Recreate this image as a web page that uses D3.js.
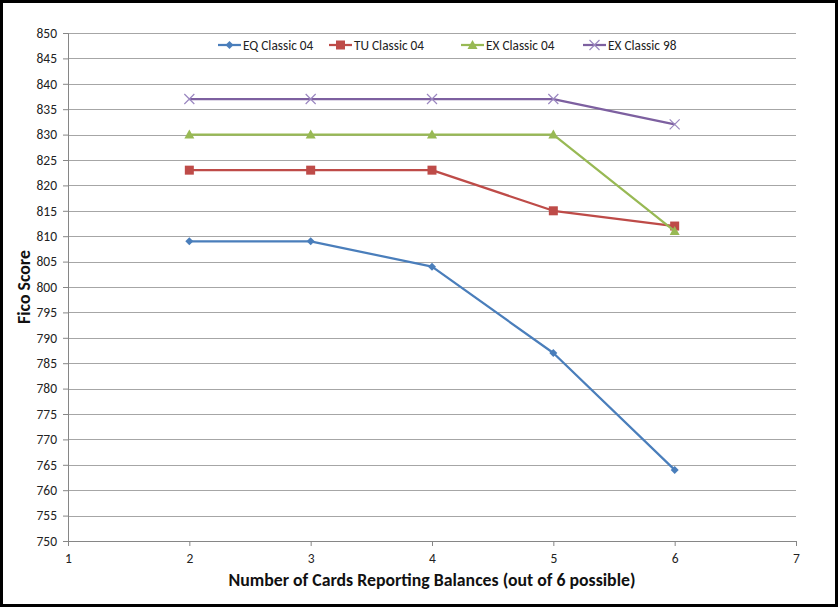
<!DOCTYPE html>
<html><head><meta charset="utf-8">
<script src="https://cdn.jsdelivr.net/npm/d3@7"></script>
<style>body{margin:0;background:#fff}svg{display:block}</style>
</head><body>
<script>
const xCats = [2, 3, 4, 5, 6];
const seriesNames = ["EQ Classic 04", "TU Classic 04", "EX Classic 04", "EX Classic 98"];
const eq04 = [809, 809, 804, 787, 764];
const tu04 = [823, 823, 823, 815, 812];
const ex04 = [830, 830, 830, 830, 811];
const ex98 = [837, 837, 837, 837, 832];
const xTicks = [1, 2, 3, 4, 5, 6, 7];
const yTicks = d3.range(750, 851, 5);
const colors = ["#4a7ebb", "#be4b48", "#98b954", "#7d60a0"];
const markers = ["diamond", "square", "triangle", "x"];
const allSeries = [eq04, tu04, ex04, ex98];

const W = 838, H = 607;
const svg = d3.select("body").append("svg").attr("width", W).attr("height", H);
svg.append("rect").attr("x", 1.5).attr("y", 1.5).attr("width", W - 3).attr("height", H - 3)
  .attr("fill", "#fff").attr("stroke", "#000").attr("stroke-width", 3);

const x = d3.scaleLinear().domain([1, 7]).range([68, 796]);
const y = d3.scaleLinear().domain([750, 850]).range([541, 33]);
const font = "Calibri, Carlito, 'Open Sans', sans-serif";

// gridlines
svg.append("g").selectAll("line").data(yTicks).join("line")
  .attr("x1", x(1)).attr("x2", x(7)).attr("y1", d => Math.round(y(d)) + 0.5).attr("y2", d => Math.round(y(d)) + 0.5)
  .attr("stroke", "#a6a6a6").attr("stroke-width", 1);

// y axis
const yAxis = svg.append("g").attr("transform", `translate(${x(1)},0)`)
  .call(d3.axisLeft(y).tickValues(yTicks).tickSize(5).tickPadding(6));
yAxis.select(".domain").attr("stroke", "#868686");
yAxis.selectAll(".tick line").attr("stroke", "#868686");
yAxis.selectAll("text").attr("font-family", font).attr("font-size", 13.5).attr("fill", "#222");

// x axis
const xAxis = svg.append("g").attr("transform", `translate(0,${y(750)})`)
  .call(d3.axisBottom(x).tickValues(xTicks).tickFormat(d3.format("d")).tickSize(5).tickPadding(7));
xAxis.select(".domain").attr("stroke", "#868686");
xAxis.selectAll(".tick line").attr("stroke", "#868686");
xAxis.selectAll("text").attr("font-family", font).attr("font-size", 13.5).attr("fill", "#222");

// axis titles
svg.append("text").attr("x", 432).attr("y", 586).attr("text-anchor", "middle")
  .attr("font-family", font).attr("font-size", 17.8).attr("font-weight", "bold").attr("fill", "#111")
  .text("Number of Cards Reporting Balances (out of 6 possible)");
svg.append("text").attr("transform", "translate(30,287) rotate(-90)").attr("text-anchor", "middle")
  .attr("font-family", font).attr("font-size", 17.8).attr("font-weight", "bold").attr("fill", "#111")
  .text("Fico Score");

function drawMarker(g, type, cx, cy, color) {
  if (type === "diamond") {
    g.append("path").attr("d", `M${cx},${cy - 4}L${cx + 4},${cy}L${cx},${cy + 4}L${cx - 4},${cy}Z`).attr("fill", color);
  } else if (type === "square") {
    g.append("rect").attr("x", cx - 4.5).attr("y", cy - 4.5).attr("width", 9).attr("height", 9).attr("fill", color);
  } else if (type === "triangle") {
    g.append("path").attr("d", `M${cx},${cy - 5}L${cx + 5},${cy + 4}L${cx - 5},${cy + 4}Z`).attr("fill", color);
  } else {
    g.append("path").attr("d", `M${cx - 5},${cy - 5}L${cx + 5},${cy + 5}M${cx - 5},${cy + 5}L${cx + 5},${cy - 5}`)
      .attr("stroke", "#9b87c0").attr("stroke-width", 1.2).attr("fill", "none");
  }
}

const line = d3.line().x((d, i) => x(xCats[i])).y(d => y(d));
allSeries.forEach((vals, si) => {
  const g = svg.append("g");
  g.append("path").datum(vals).attr("d", line).attr("fill", "none")
    .attr("stroke", colors[si]).attr("stroke-width", 2.25).attr("stroke-linejoin", "round");
  vals.forEach((v, i) => drawMarker(g, markers[si], x(xCats[i]), y(v), colors[si]));
});

// legend
const legX = [218, 329, 461, 583];
seriesNames.forEach((name, si) => {
  const g = svg.append("g");
  const lx = legX[si], ly = 45;
  g.append("line").attr("x1", lx).attr("x2", lx + 23).attr("y1", ly).attr("y2", ly)
    .attr("stroke", colors[si]).attr("stroke-width", 2.25);
  drawMarker(g, markers[si], lx + 11.5, ly, colors[si]);
  g.append("text").attr("x", lx + 25).attr("y", ly + 4.5).attr("font-family", font).attr("font-size", 13.3)
    .attr("fill", "#222").text(name);
});
</script>
</body></html>
